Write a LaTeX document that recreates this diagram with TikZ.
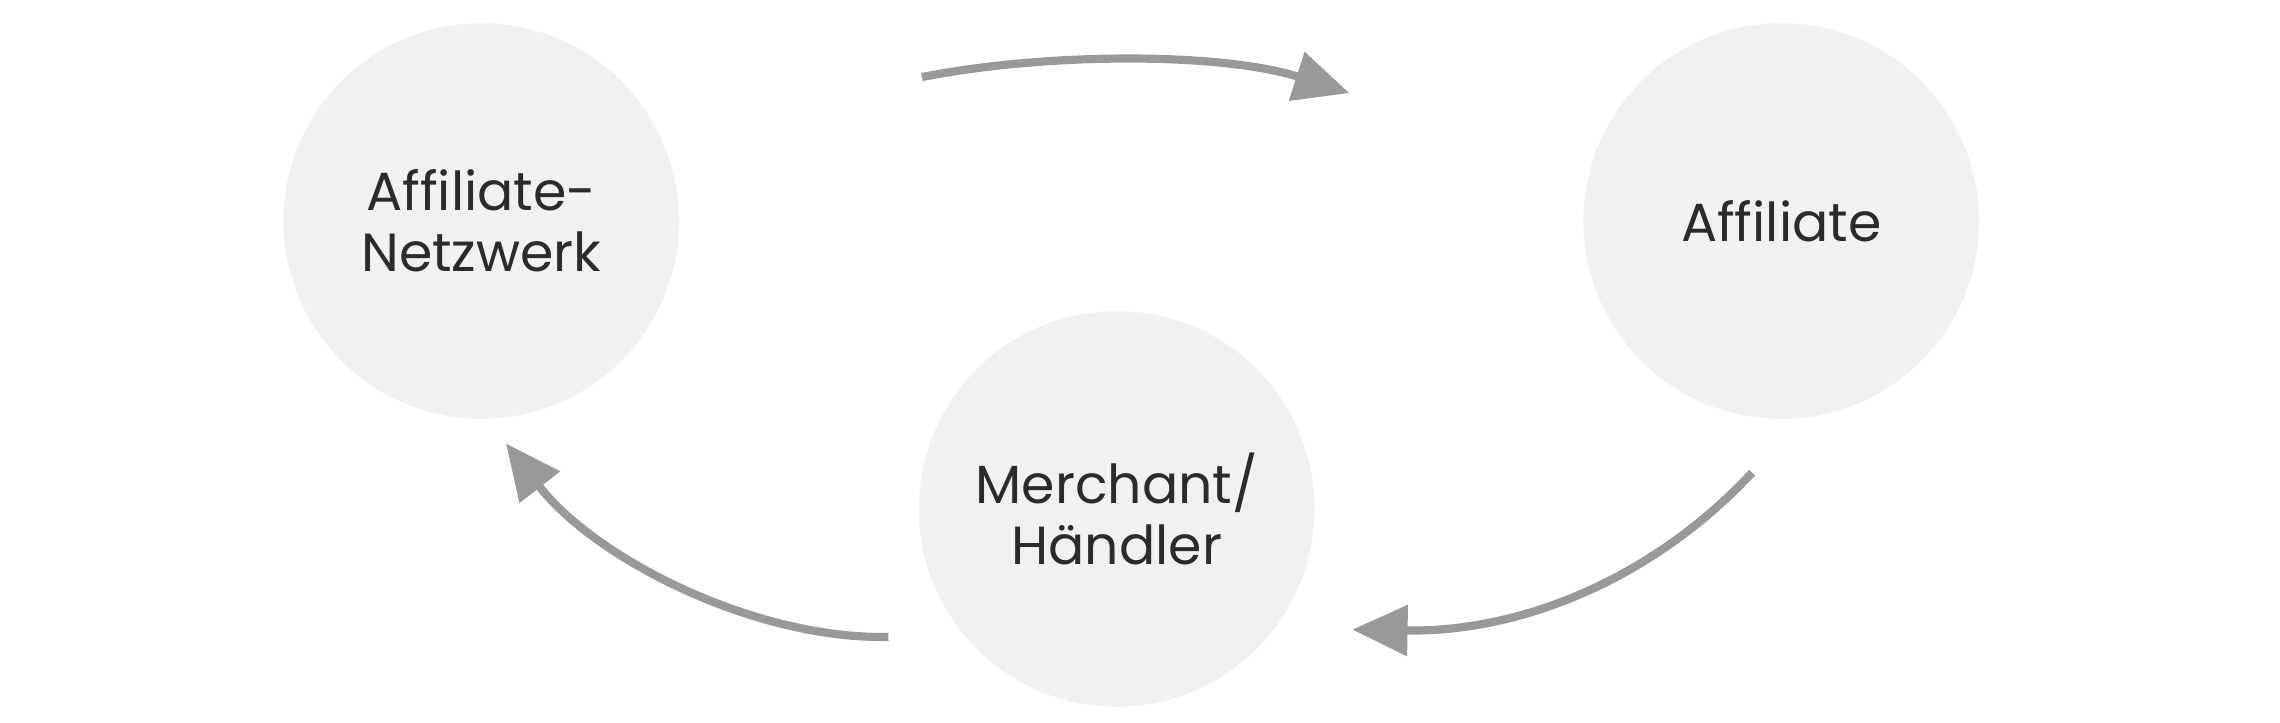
\documentclass[tikz,border=0pt]{standalone}
\usepackage{fontspec}
\setmainfont{Poppins}
\usetikzlibrary{arrows.meta}
\definecolor{circ}{HTML}{F2F1F0}
\definecolor{arr}{HTML}{999999}
\definecolor{txt}{HTML}{2B2B2B}
\begin{document}
\begin{tikzpicture}[x=0.01cm,y=-0.01cm,
  party/.style={circle,fill=circ,minimum size=2.72cm,inner sep=0pt,align=center,text=txt,font=\fontsize{10.5}{12}\selectfont},
  flow/.style={draw=arr,line width=1.6pt,-{Triangle[length=0.38cm,width=0.34cm]}}]
\useasboundingbox (0,0) rectangle (1568,497);
\node[party] (net) at (331,152) {Affiliate-\\Netzwerk};
\node[party] (aff) at (1225,152) {Affiliate};
\node[party] (mer) at (768,350) {Merchant/\\Händler};
\coordinate (a1s) at (634,53);
\coordinate (a1e) at (928,64);
\coordinate (a2s) at (1205,325);
\coordinate (a2e) at (930,433);
\coordinate (a3s) at (611,438);
\coordinate (a3e) at (348,305);
\draw[flow] (a1s) .. controls (720,36) and (840,36) .. (a1e);
\draw[flow] (a2s) .. controls (1140,395) and (1050,435) .. (a2e);
\draw[flow] (a3s) .. controls (520,440) and (410,385) .. (a3e);
\end{tikzpicture}
\end{document}
